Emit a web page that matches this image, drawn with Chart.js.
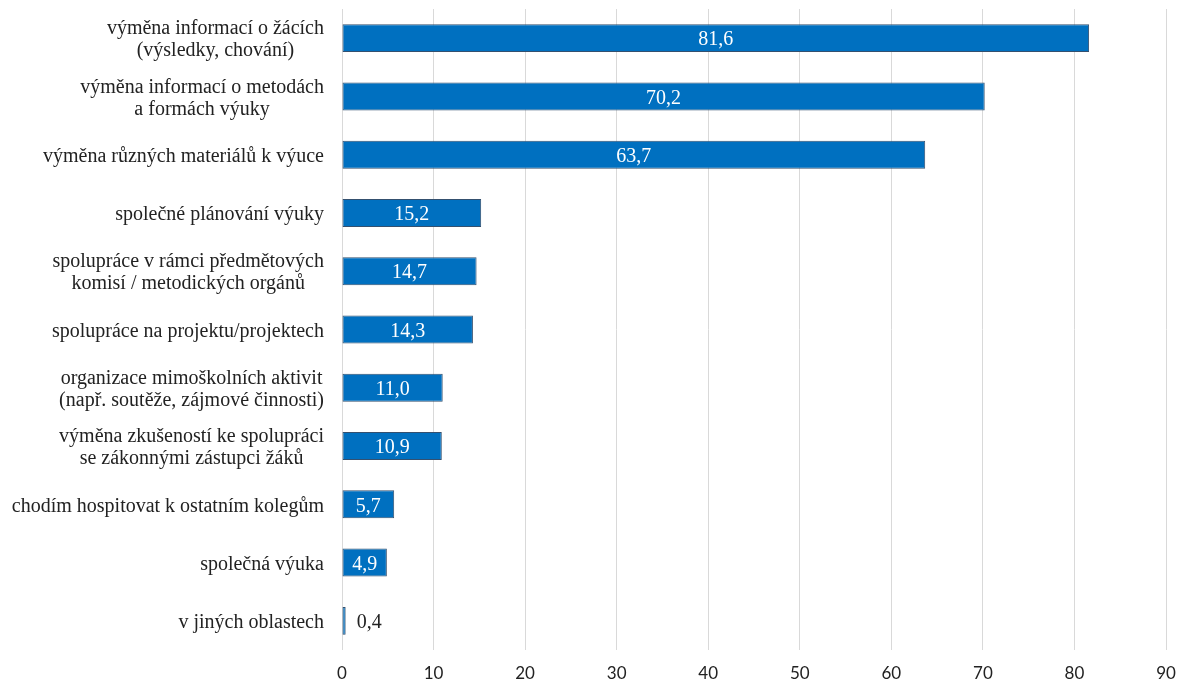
<!DOCTYPE html>
<html lang="cs">
<head>
<meta charset="utf-8">
<title>Spolupráce učitelů</title>
<script src="https://cdn.jsdelivr.net/npm/chart.js@4.4.1/dist/chart.umd.min.js"></script>
<style>
  html, body { margin:0; padding:0; background:#fff; }
  canvas { display:block; }
</style>
</head>
<body>
<canvas id="chart" width="1180" height="682"></canvas>
<script>
// categories (multi-line where the label wraps)
const categories = [
  ['výměna informací o žácích', '(výsledky, chování)'],
  ['výměna informací o metodách', 'a formách výuky'],
  ['výměna různých materiálů k výuce'],
  ['společné plánování výuky'],
  ['spolupráce v rámci předmětových', 'komisí / metodických orgánů'],
  ['spolupráce na projektu/projektech'],
  ['organizace mimoškolních aktivit', '(např. soutěže, zájmové činnosti)'],
  ['výměna zkušeností ke spolupráci', 'se zákonnými zástupci žáků'],
  ['chodím hospitovat k ostatním kolegům'],
  ['společná výuka'],
  ['v jiných oblastech']
];
const values = [81.6, 70.2, 63.7, 15.2, 14.7, 14.3, 11.0, 10.9, 5.7, 4.9, 0.4];
const axisMin = 0, axisMax = 90, axisStep = 10;

const SERIF = '"Liberation Serif", "Times New Roman", serif';
const fmt = v => v.toFixed(1).replace('.', ',');

// left labels: block right-aligned, lines centred inside the block
const catLabels = {
  id: 'catLabels',
  afterDraw(chart) {
    const ctx = chart.ctx, y = chart.scales.y;
    const right = y.right - 18, lh = 22;
    ctx.save();
    ctx.font = '20px ' + SERIF;
    ctx.fillStyle = '#222';
    ctx.textAlign = 'center';
    ctx.textBaseline = 'middle';
    categories.forEach((lines, i) => {
      const cy = y.getPixelForTick(i) + 2;
      const w = Math.max(...lines.map(l => ctx.measureText(l).width));
      const cx = right - w / 2;
      lines.forEach((l, j) => {
        ctx.fillText(l, cx, cy + (j - (lines.length - 1) / 2) * lh);
      });
    });
    ctx.restore();
  }
};

// value labels inside the bars, outside when the bar is too short
const valueLabels = {
  id: 'valueLabels',
  afterDatasetsDraw(chart) {
    const ctx = chart.ctx;
    const meta = chart.getDatasetMeta(0);
    ctx.save();
    ctx.font = '20px ' + SERIF;
    ctx.textBaseline = 'middle';
    meta.data.forEach((bar, i) => {
      const txt = fmt(values[i]);
      const tw = ctx.measureText(txt).width;
      const len = bar.x - bar.base;
      if (len > tw + 8) {
        ctx.fillStyle = '#fff';
        ctx.textAlign = 'center';
        ctx.fillText(txt, (bar.x + bar.base) / 2, bar.y + 2);
      } else {
        ctx.fillStyle = '#222';
        ctx.textAlign = 'left';
        ctx.fillText(txt, bar.x + 11, bar.y + 2);
      }
    });
    ctx.restore();
  }
};

new Chart(document.getElementById('chart'), {
  type: 'bar',
  data: {
    labels: categories,
    datasets: [{
      data: values,
      backgroundColor: '#0070c0',
      borderColor: '#34506f',
      borderWidth: 1,
      borderSkipped: false,
      barPercentage: 0.48,
      categoryPercentage: 1
    }]
  },
  options: {
    indexAxis: 'y',
    responsive: false,
    animation: false,
    layout: { padding: { top: 9, right: 14, left: 0, bottom: 0 } },
    plugins: { legend: { display: false }, tooltip: { enabled: false } },
    scales: {
      x: {
        min: axisMin, max: axisMax,
        ticks: {
          stepSize: axisStep,
          padding: 13,
          color: '#222',
          font: { family: 'Lato, "Open Sans", sans-serif', size: 17 }
        },
        grid: { color: '#d9d9d9', lineWidth: 1, drawTicks: false },
        border: { display: false },
        afterFit(s) { s.height = 32; s.paddingLeft = 0; s.paddingRight = 0; }
      },
      y: {
        ticks: { display: false },
        grid: { display: false },
        border: { display: false },
        afterFit(s) { s.width = 342; }
      }
    }
  },
  plugins: [catLabels, valueLabels]
});
</script>
</body>
</html>
